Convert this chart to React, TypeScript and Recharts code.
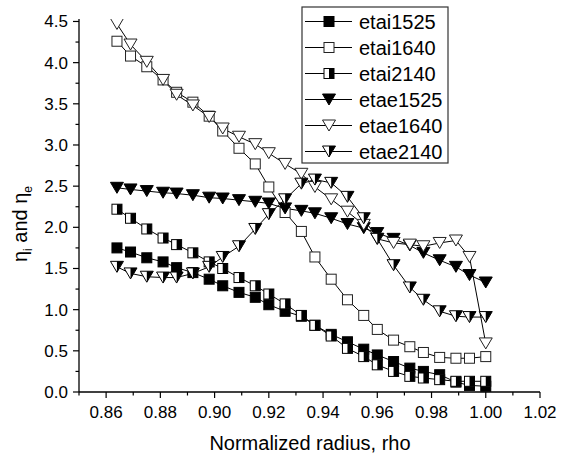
import { LineChart, Line, XAxis, YAxis, Label } from 'recharts'

const rho = [0.864, 0.869, 0.875, 0.881, 0.886, 0.892, 0.898, 0.903, 0.909, 0.915, 0.920, 0.926, 0.932, 0.937, 0.943, 0.949, 0.955, 0.960, 0.966, 0.972, 0.977, 0.983, 0.989, 0.994, 1.000]

const etai1525 = [1.75, 1.70, 1.63, 1.58, 1.51, 1.45, 1.37, 1.29, 1.21, 1.15, 1.06, 0.98, 0.92, 0.81, 0.70, 0.61, 0.52, 0.45, 0.37, 0.29, 0.25, 0.21, 0.12, 0.08, 0.07]
const etai1640 = [4.26, 4.08, 3.95, 3.79, 3.64, 3.52, 3.35, 3.17, 2.96, 2.77, 2.49, 2.18, 1.95, 1.64, 1.37, 1.12, 0.93, 0.76, 0.63, 0.55, 0.48, 0.42, 0.41, 0.41, 0.43]
const etai2140 = [2.22, 2.11, 1.98, 1.87, 1.79, 1.69, 1.58, 1.50, 1.39, 1.29, 1.19, 1.07, 0.93, 0.81, 0.68, 0.53, 0.43, 0.33, 0.25, 0.19, 0.17, 0.15, 0.13, 0.13, 0.13]
const etae1525 = [2.48, 2.46, 2.44, 2.42, 2.41, 2.39, 2.36, 2.35, 2.33, 2.31, 2.29, 2.23, 2.20, 2.17, 2.11, 2.04, 1.99, 1.93, 1.86, 1.78, 1.69, 1.60, 1.52, 1.42, 1.33]
const etae1640 = [4.47, 4.22, 4.01, 3.79, 3.61, 3.48, 3.34, 3.20, 3.10, 3.01, 2.90, 2.77, 2.65, 2.49, 2.34, 2.19, 2.03, 1.86, 1.81, 1.79, 1.77, 1.81, 1.84, 1.64, 0.59]
const etae2140 = [1.52, 1.44, 1.40, 1.39, 1.39, 1.44, 1.52, 1.64, 1.77, 1.98, 2.16, 2.34, 2.53, 2.58, 2.54, 2.37, 2.11, 1.86, 1.54, 1.27, 1.12, 0.98, 0.92, 0.91, 0.91]

const xTicks = [0.85, 0.86, 0.87, 0.88, 0.89, 0.90, 0.91, 0.92, 0.93, 0.94, 0.95, 0.96, 0.97, 0.98, 0.99, 1.00, 1.01, 1.02]
const yTicks = [0, 0.25, 0.5, 0.75, 1.0, 1.25, 1.5, 1.75, 2.0, 2.25, 2.5, 2.75, 3.0, 3.25, 3.5, 3.75, 4.0, 4.25, 4.5]

const series = [
  { key: 'etai1525', values: etai1525, kind: 'sqFill' },
  { key: 'etai1640', values: etai1640, kind: 'sqOpen' },
  { key: 'etai2140', values: etai2140, kind: 'sqHalf' },
  { key: 'etae1525', values: etae1525, kind: 'triFill' },
  { key: 'etae1640', values: etae1640, kind: 'triOpen' },
  { key: 'etae2140', values: etae2140, kind: 'triHalf' },
]

const data = rho.map((r, i) => {
  const row: Record<string, number> = { rho: r }
  series.forEach(s => { row[s.key] = s.values[i] })
  return row
})

const FONT = '"Liberation Sans", Arial, sans-serif'

const Marker = ({ cx, cy, kind }: { cx: number; cy: number; kind: string }) => {
  if (cx == null || cy == null) return null
  const s = 5
  const w = 6.5
  const h = 5.5
  const tri = `${cx - w},${cy - h} ${cx + w},${cy - h} ${cx},${cy + h}`
  switch (kind) {
    case 'sqFill':
      return <rect x={cx - s} y={cy - s} width={2 * s} height={2 * s} fill="#000" stroke="#000" strokeWidth={1} />
    case 'sqOpen':
      return <rect x={cx - s} y={cy - s} width={2 * s} height={2 * s} fill="#fff" stroke="#222" strokeWidth={1} />
    case 'sqHalf':
      return (
        <g>
          <rect x={cx - s} y={cy - s} width={2 * s} height={2 * s} fill="#fff" stroke="#000" strokeWidth={1} />
          <rect x={cx} y={cy - s} width={s} height={2 * s} fill="#000" />
        </g>
      )
    case 'triFill':
      return <polygon points={tri} fill="#000" stroke="#000" strokeWidth={1} />
    case 'triOpen':
      return <polygon points={tri} fill="#fff" stroke="#222" strokeWidth={1} />
    default:
      return (
        <g>
          <polygon points={tri} fill="#fff" stroke="#000" strokeWidth={1} />
          <polygon points={`${cx},${cy - h} ${cx + w},${cy - h} ${cx},${cy + h}`} fill="#000" />
        </g>
      )
  }
}

const XTick = ({ x, y, payload }: any) => {
  const v = payload.value
  const major = Math.round(v * 100) % 2 === 0
  return (
    <g>
      <line x1={x} y1={y} x2={x} y2={y + (major ? 6 : 3.5)} stroke="#000" strokeWidth={1.2} />
      {major && (
        <text x={x} y={y + 26} textAnchor="middle" fontSize={17} fontFamily={FONT} fill="#000">
          {v.toFixed(2)}
        </text>
      )}
    </g>
  )
}

const YTick = ({ x, y, payload }: any) => {
  const v = payload.value
  const major = Math.round(v * 4) % 2 === 0
  return (
    <g>
      <line x1={x} y1={y} x2={x - (major ? 6 : 3.5)} y2={y} stroke="#000" strokeWidth={1.2} />
      {major && (
        <text x={x - 11} y={y + 6} textAnchor="end" fontSize={17} fontFamily={FONT} fill="#000">
          {v.toFixed(1)}
        </text>
      )}
    </g>
  )
}

const XTitle = () => (
  <text x={310} y={450} textAnchor="middle" fontSize={20} fontFamily={FONT} fill="#000">
    Normalized radius, rho
  </text>
)

const YTitle = () => (
  <text x={0} y={0} transform="translate(27,224) rotate(-90)" textAnchor="middle" fontSize={20} fontFamily={FONT} fill="#000">
    <tspan>η</tspan>
    <tspan dy={5} fontSize={12}>i</tspan>
    <tspan dy={-5}> and η</tspan>
    <tspan dy={5} fontSize={12}>e</tspan>
  </text>
)

const LegendBox = () => (
  <svg width={150} height={160} style={{ position: 'absolute', left: 301, top: 6 }}>
    <rect x={1} y={1} width={146} height={156} fill="#fff" stroke="#333" strokeWidth={1.2} />
    {series.map((s, i) => {
      const cy = 15.5 + i * 26
      return (
        <g key={s.key}>
          <line x1={4} y1={cy} x2={51} y2={cy} stroke="#000" strokeWidth={1} />
          <Marker cx={28} cy={cy} kind={s.kind} />
          <text x={58} y={cy + 7} fontSize={20} fontFamily={FONT} fill="#000">
            {s.key}
          </text>
        </g>
      )
    })}
  </svg>
)

export default function App() {
  return (
    <div style={{ position: 'absolute', left: 0, top: 0, width: 563, height: 461, background: '#fff' }}>
      <LineChart width={563} height={461} data={data} margin={{ top: 19, right: 23, left: 0, bottom: 9 }}>
        <XAxis
          dataKey="rho"
          type="number"
          domain={[0.85, 1.02]}
          ticks={xTicks}
          interval={0}
          tickSize={0}
          tickMargin={0}
          tickLine={false}
          tick={<XTick />}
          height={60}
          axisLine={{ stroke: '#000', strokeWidth: 1.3 }}
          allowDataOverflow
        >
          <Label content={<XTitle />} />
        </XAxis>
        <YAxis
          type="number"
          domain={[0, 4.53]}
          ticks={yTicks}
          interval={0}
          tickSize={0}
          tickMargin={0}
          tickLine={false}
          tick={<YTick />}
          width={79}
          axisLine={{ stroke: '#000', strokeWidth: 1.3 }}
          allowDataOverflow
        >
          <Label content={<YTitle />} />
        </YAxis>
        {series.map(s => (
          <Line
            key={s.key}
            dataKey={s.key}
            stroke="#000"
            strokeWidth={1}
            isAnimationActive={false}
            activeDot={false}
            dot={(p: any) => <Marker key={`${s.key}-${p.index}`} cx={p.cx} cy={p.cy} kind={s.kind} />}
          />
        ))}
      </LineChart>
      <LegendBox />
    </div>
  )
}
